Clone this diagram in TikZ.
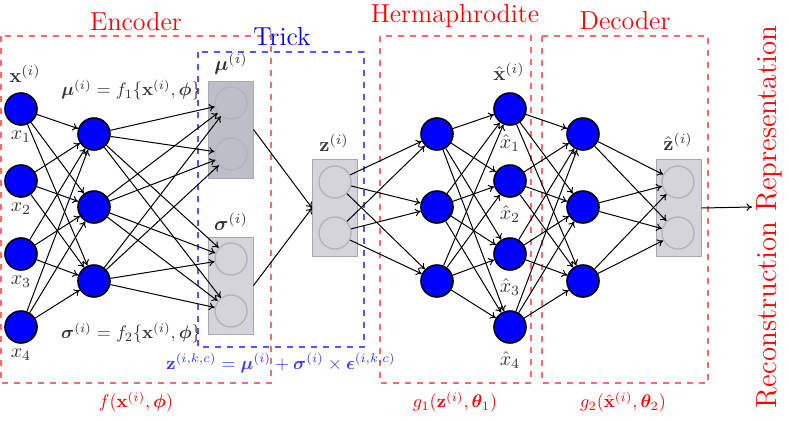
\documentclass[tikz,border=0pt]{standalone}
\usepackage{amsmath,bm}
\usetikzlibrary{arrows.meta}
\definecolor{dashred}{HTML}{FF6A6A}
\definecolor{dashblue}{HTML}{5555FF}
\definecolor{eqblue}{HTML}{3838FF}
\definecolor{mugray}{HTML}{BEBEC9}
\definecolor{lightgray}{HTML}{D4D4DA}
\definecolor{boxedge}{HTML}{A8A8B0}
\definecolor{circgray}{HTML}{B4B4BC}
\definecolor{txtgray}{HTML}{333333}
\begin{document}
\begin{tikzpicture}[x=0.5pt,y=-0.5pt,
  neuron/.style={circle,draw=black,line width=0.8pt,fill=blue,minimum size=16pt,inner sep=0pt},
  unit/.style={circle,draw=circgray,line width=0.7pt,minimum size=16pt,inner sep=0pt},
  layerbox/.style={rectangle,draw=boxedge,line width=0.5pt,minimum width=22.5pt,minimum height=48.5pt,inner sep=0pt},
  conn/.style={-{To[length=2.8pt,width=3.8pt]},line width=0.5pt},
  redbox/.style={draw=dashred,dashed,line width=0.6pt},
  bluebox/.style={draw=dashblue,dashed,line width=0.6pt},
  title/.style={text=red,font=\fontsize{13}{15}\selectfont},
  lbl/.style={text=txtgray,inner sep=0pt},
  eqlbl/.style={text=txtgray,inner sep=0pt,scale=0.91},
  fnlbl/.style={text=red,inner sep=0pt,scale=0.91}]
\useasboundingbox (0,0) rectangle (789,420);

% dashed region boxes
\draw[redbox] (1,36) rectangle (271,383);
\draw[bluebox] (198,52) rectangle (364,347);
\draw[redbox] (380,36) rectangle (531,383);
\draw[redbox] (542,36) rectangle (708,383);

% titles
\node[title] (tenc) at (136,22) {Encoder};
\node[title,text=blue] (ttrick) at (282,37) {Trick};
\node[title] (therm) at (455,16) {Hermaphrodite};
\node[title] (tdec) at (625,21) {Decoder};
\node[title,font=\fontsize{14.5}{16}\selectfont,rotate=90] (trec) at (769,217) {Reconstruction Representation};

% equations (under the boxes)
\node[eqlbl] (eqmu) at (131,90) {$\bm{\mu}^{(i)} = f_1\{\mathbf{x}^{(i)},\bm{\phi}\}$};
\node[eqlbl] (eqsg) at (131,333) {$\bm{\sigma}^{(i)} = f_2\{\mathbf{x}^{(i)},\bm{\phi}\}$};
\node[eqlbl,text=eqblue] (eqz) at (281,363) {$\mathbf{z}^{(i,k,c)} = \bm{\mu}^{(i)} + \bm{\sigma}^{(i)} \times \bm{\epsilon}^{(i,k,c)}$};

% gray layer boxes
\node[layerbox,fill=mugray] (mubox) at (230.5,129.5) {};
\node[layerbox,fill=lightgray] (sgbox) at (230.5,285.5) {};
\node[layerbox,fill=lightgray] (zbox) at (335,208) {};
\node[layerbox,fill=lightgray] (zhbox) at (678.5,208) {};

% units in boxes
\node[unit] (mu1) at (231,103) {};
\node[unit] (mu2) at (231,154) {};
\node[unit] (sg1) at (231,259) {};
\node[unit] (sg2) at (231,311) {};
\node[unit] (z1) at (335,182) {};
\node[unit] (z2) at (335,233) {};
\node[unit] (zh1) at (678,182) {};
\node[unit] (zh2) at (678,233) {};

% neurons
\foreach \i/\y in {1/109,2/181,3/254,4/327} {
  \node[neuron] (in\i) at (21,\y) {};
  \node[neuron] (xh\i) at (510,\y) {};
}
\foreach \i/\y in {1/134,2/207,3/281} {
  \node[neuron] (h\i) at (94,\y) {};
  \node[neuron] (a\i) at (437,\y) {};
  \node[neuron] (d\i) at (583,\y) {};
}

% connections
\foreach \i in {1,...,4} \foreach \j in {1,2,3} {
  \draw[conn] (in\i) -- (h\j);
  \draw[conn] (a\j) -- (xh\i);
  \draw[conn] (xh\i) -- (d\j);
}
\foreach \j in {1,2,3} \foreach \t in {mu1,mu2,sg1,sg2} {
  \draw[conn] (h\j) -- (\t);
}
\foreach \k in {1,2} \foreach \j in {1,2,3} {
  \draw[conn] (z\k) -- (a\j);
  \draw[conn] (d\j) -- (zh\k);
}
\draw[conn] (mubox.east) -- (zbox.west);
\draw[conn] (sgbox.east) -- (zbox.west);
\coordinate (outend) at (752,207);
\draw[conn] (zhbox.east) -- (outend);

% layer labels
\node[lbl] (lx) at (25,74) {$\mathbf{x}^{(i)}$};
\node[lbl] (lx1) at (21,137) {$x_1$};
\node[lbl] (lx2) at (21,209) {$x_2$};
\node[lbl] (lx3) at (21,282) {$x_3$};
\node[lbl] (lx4) at (21,355) {$x_4$};
\node[lbl] (lmu) at (231,64) {$\bm{\mu}^{(i)}$};
\node[lbl] (lsg) at (231,222) {$\bm{\sigma}^{(i)}$};
\node[lbl] (lz) at (334,143) {$\mathbf{z}^{(i)}$};
\node[lbl] (lxh) at (509,72) {$\hat{\mathbf{x}}^{(i)}$};
\node[lbl] (lxh1) at (510,143) {$\hat{x}_1$};
\node[lbl] (lxh2) at (510,214) {$\hat{x}_2$};
\node[lbl] (lxh3) at (510,287) {$\hat{x}_3$};
\node[lbl] (lxh4) at (510,360) {$\hat{x}_4$};
\node[lbl] (lzh) at (678,142) {$\hat{\mathbf{z}}^{(i)}$};

% function labels
\node[fnlbl] (fenc) at (136,402) {$f(\mathbf{x}^{(i)},\bm{\phi})$};
\node[fnlbl] (fg1) at (455,402) {$g_1(\mathbf{z}^{(i)},\bm{\theta}_1)$};
\node[fnlbl] (fg2) at (623,402) {$g_2(\hat{\mathbf{x}}^{(i)},\bm{\theta}_2)$};
\end{tikzpicture}
\end{document}
